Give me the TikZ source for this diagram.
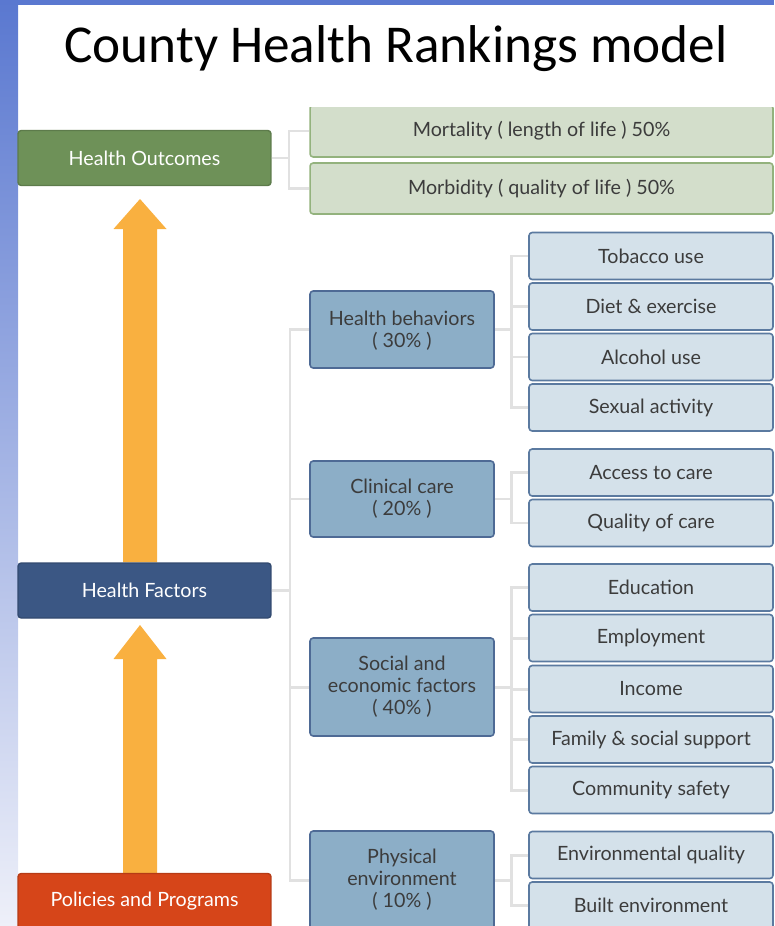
\documentclass[tikz,border=0pt]{standalone}
\usepackage{fontspec}
\setmainfont{Lato}
\newfontfamily\titlefont{Carlito}
\usetikzlibrary{positioning, calc, backgrounds}
\definecolor{stripblue}{HTML}{5A78D0}
\definecolor{stripmid}{HTML}{BFC8E8}
\definecolor{stripfade}{HTML}{EEF0F9}
\definecolor{hogreen}{HTML}{6E9158}
\definecolor{hfblue}{HTML}{3B5784}
\definecolor{pporange}{HTML}{D64519}
\definecolor{outfill}{HTML}{D3DECB}
\definecolor{outline}{HTML}{93B27D}
\definecolor{midfill}{HTML}{8CAEC7}
\definecolor{midline}{HTML}{4E6A95}
\definecolor{leaffill}{HTML}{D4E1EA}
\definecolor{leafline}{HTML}{5B7AA0}
\definecolor{linkgray}{HTML}{E1E1E1}
\definecolor{arrowamber}{HTML}{F9B040}
\definecolor{textgray}{HTML}{3C3C3C}

\begin{document}
\begin{tikzpicture}[
    x=0.02cm, y=-0.02cm,
    keybox/.style={rounded corners=1.8pt, line width=0.8pt, fill=#1, draw=#1!85!black,
                   minimum width=5.06cm, minimum height=1.1cm, inner sep=0pt,
                   text=white, font=\fontsize{11.2}{13}\selectfont},
    outbox/.style={rounded corners=1.8pt, line width=0.9pt, fill=outfill, draw=outline,
                   minimum width=9.26cm, minimum height=#1, inner sep=0pt,
                   text=textgray, font=\fontsize{11.2}{13}\selectfont},
    midbox/.style={rounded corners=1.8pt, line width=0.9pt, fill=midfill, draw=midline,
                   minimum width=3.68cm, minimum height=#1, inner sep=0pt, align=center,
                   text=textgray, font=\fontsize{11.2}{12.5}\selectfont},
    leafbox/.style={rounded corners=1.8pt, line width=0.9pt, fill=leaffill, draw=leafline,
                    minimum width=4.88cm, minimum height=0.94cm, inner sep=0pt,
                    text=textgray, font=\fontsize{11.2}{13}\selectfont},
    link/.style={draw=linkgray, line width=1.7pt},
    bigarrow/.style={fill=arrowamber},
  ]

  \clip (0,0) rectangle (774,926);

  % -- slide frame --
  \shade[top color=stripblue, middle color=stripmid, bottom color=stripfade] (0,0) rectangle (18,926);
  \fill[stripblue] (0,0) rectangle (774,5);

  \node[font=\titlefont\fontsize{30.3}{36}\selectfont] (title) at (396,49) {County Health Rankings model};

  % -- left column --
  \node[keybox=hogreen]   (ho) at (144.5,158)   {Health Outcomes};
  \node[keybox=hfblue]    (hf) at (144.5,590.5) {Health Factors};
  \node[keybox=pporange]  (pp) at (144.5,901)   {Policies and Programs};

  % -- outcomes --
  \begin{scope}
    \clip (300,108) rectangle (774,230);
    \node[outbox=1.04cm] (mort) at (541.5,131) {Mortality ( length of life ) 50\%};
  \end{scope}
  \node[outbox=1.02cm] (morb) at (541.5,188.5) {Morbidity ( quality of life ) 50\%};

  % -- factor groups --
  \node[midbox=1.54cm, text depth=0pt] (hb) at (402,329.5) {Health behaviors\\( 30\% )};
  \node[midbox=1.52cm] (cc) at (402,499)   {Clinical care\\( 20\% )};
  \node[midbox=1.96cm] (se) at (402,687)   {Social and\\economic factors\\( 40\% )};
  \node[midbox=1.96cm] (pe) at (402,880)   {Physical\\environment\\( 10\% )};

  % -- measures --
  \node[leafbox] (tob)  at (651,256)   {Tobacco use};
  \node[leafbox] (diet) at (651,306.5) {Diet \& exercise};
  \node[leafbox] (alc)  at (651,357)   {Alcohol use};
  \node[leafbox] (sex)  at (651,407.5) {Sexual activity};

  \node[leafbox] (acc)  at (651,472.5) {Access to care};
  \node[leafbox] (qoc)  at (651,523)   {Quality of care};

  \node[leafbox] (edu)  at (651,587.5) {Education};
  \node[leafbox] (emp)  at (651,638)   {Employment};
  \node[leafbox] (inc)  at (651,689)   {Income};
  \node[leafbox] (fam)  at (651,739.5) {Family \& social support};
  \node[leafbox] (safe) at (651,790)   {Community safety};

  \node[leafbox] (envq) at (651,855)   {Environmental quality};
  \node[leafbox] (bui)  at (651,905.5) {Built environment};

  % -- spines for the tree lines --
  \coordinate (oSpine) at (289,0);
  \coordinate (fSpine) at (290,0);
  \coordinate (mSpine) at (511,0);

  % -- tree lines --
  \draw[link] (ho.east) -- (ho.east -| oSpine);
  \draw[link] (mort.west) -| (oSpine |- morb.west) -- (morb.west);

  \draw[link] (hf.east) -- (hf.east -| fSpine);
  \draw[link] (hb.west) -| (fSpine |- pe.west) -- (pe.west);
  \draw[link] (cc.west) -- (cc.west -| fSpine);
  \draw[link] (se.west) -- (se.west -| fSpine);

  \draw[link] (hb.east) -- (hb.east -| mSpine);
  \draw[link] (tob.west) -| (mSpine |- sex.west) -- (sex.west);
  \draw[link] (diet.west) -- (diet.west -| mSpine);
  \draw[link] (alc.west) -- (alc.west -| mSpine);

  \draw[link] (cc.east) -- (cc.east -| mSpine);
  \draw[link] (acc.west) -| (mSpine |- qoc.west) -- (qoc.west);

  \draw[link] (se.east) -- (se.east -| mSpine);
  \draw[link] (edu.west) -| (mSpine |- safe.west) -- (safe.west);
  \draw[link] (emp.west) -- (emp.west -| mSpine);
  \draw[link] (inc.west) -- (inc.west -| mSpine);
  \draw[link] (fam.west) -- (fam.west -| mSpine);

  \draw[link] (pe.east) -- (pe.east -| mSpine);
  \draw[link] (envq.west) -| (mSpine |- bui.west) -- (bui.west);

  % -- block arrows up the left column --
  \coordinate (tip1) at (140,199);
  \coordinate (neck1) at (140,229);
  \coordinate (tip2) at (140,625);
  \coordinate (neck2) at (140,659);

  \begin{scope}[on background layer]
    \fill[bigarrow] ($(tip1 |- hf.north)+(-17,0)$) -- ($(neck1)+(-17,0)$) -- ($(neck1)+(-26.5,0)$)
      -- (tip1) -- ($(neck1)+(26.5,0)$) -- ($(neck1)+(17,0)$) -- ($(tip1 |- hf.north)+(17,0)$) -- cycle;
    \fill[bigarrow] ($(tip2 |- pp.north)+(-17,0)$) -- ($(neck2)+(-17,0)$) -- ($(neck2)+(-26.5,0)$)
      -- (tip2) -- ($(neck2)+(26.5,0)$) -- ($(neck2)+(17,0)$) -- ($(tip2 |- pp.north)+(17,0)$) -- cycle;
  \end{scope}

\end{tikzpicture}
\end{document}
